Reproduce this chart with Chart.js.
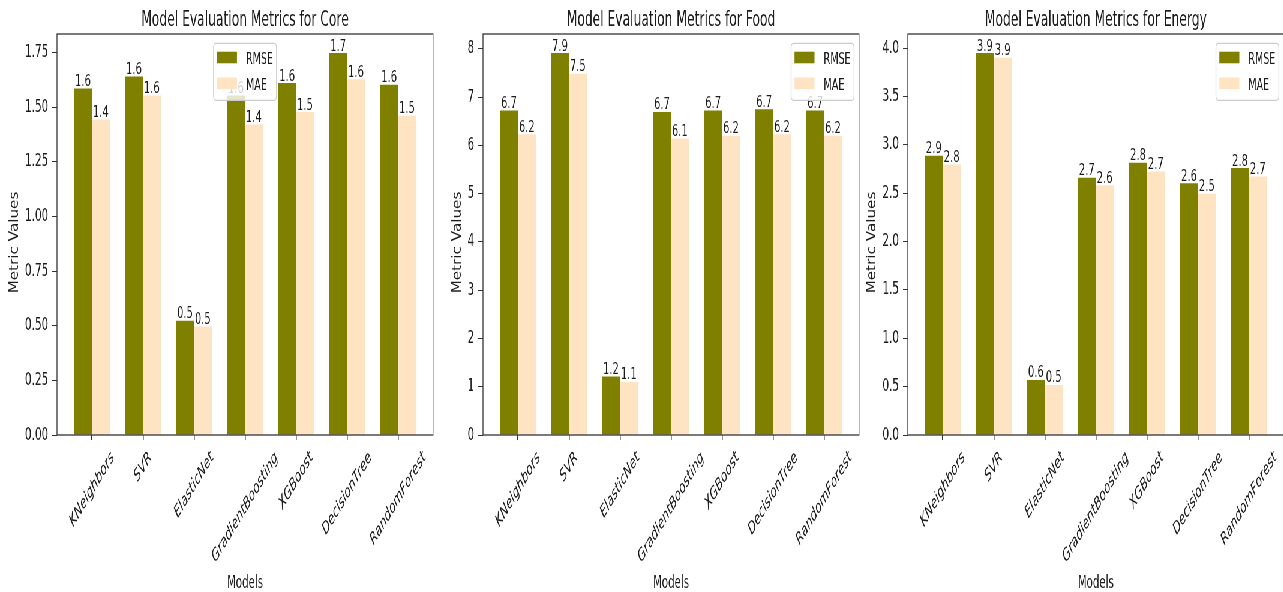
<!DOCTYPE html>
<html>
<head>
<meta charset="utf-8">
<script src="https://cdn.jsdelivr.net/npm/chart.js@4"></script>
<style>
  html, body { margin: 0; padding: 0; background: #fff; overflow: hidden; width: 1283px; height: 592px; }
  /* the figure is laid out wide and squeezed horizontally */
  #fig { position: absolute; left: 0; top: 0; width: 2170px; height: 592px; transform: scaleX(0.6); transform-origin: 0 0; }
  #fig canvas { position: absolute; top: 0; }
</style>
</head>
<body>
<div id="fig">
  <canvas id="core" width="747" height="592" style="left:0px"></canvas>
  <canvas id="food" width="747" height="592" style="left:710px"></canvas>
  <canvas id="energy" width="747" height="592" style="left:1418.3px"></canvas>
</div>
<script>
// ---- data ----
const models = ['KNeighbors', 'SVR', 'ElasticNet', 'GradientBoosting', 'XGBoost', 'DecisionTree', 'RandomForest'];
const metricNames = ['RMSE', 'MAE'];

const coreRmse = [1.586, 1.641, 0.523, 1.554, 1.611, 1.748, 1.603];
const coreMae  = [1.444, 1.554, 0.497, 1.421, 1.478, 1.628, 1.461];

const foodRmse = [6.72, 7.91, 1.21, 6.69, 6.72, 6.745, 6.72];
const foodMae  = [6.23, 7.48, 1.10, 6.14, 6.20, 6.23, 6.20];

const energyRmse = [2.886, 3.948, 0.569, 2.66, 2.814, 2.603, 2.759];
const energyMae  = [2.796, 3.90, 0.517, 2.583, 2.724, 2.493, 2.672];

const coreYTicks   = ['0.00', '0.25', '0.50', '0.75', '1.00', '1.25', '1.50', '1.75'];
const foodYTicks   = ['0', '1', '2', '3', '4', '5', '6', '7', '8'];
const energyYTicks = ['0.0', '0.5', '1.0', '1.5', '2.0', '2.5', '3.0', '3.5', '4.0'];

// ---- styling ----
const FONT = '"DejaVu Sans"';
const FS_TICK = 17.5, FS_XTICK = 17, FS_BAR = 16.5, FS_LABEL = 17, FS_YLABEL = 15.2, FS_LEGEND = 16, FS_TITLE = 20.5;
const INK = '#1c1c1c';
const AXIS = '#333333';
const COLORS = ['#808000', '#ffe4c4'];
const ROT = 45 * Math.PI / 180;
const Y_TICK_LEN = 8, Y_TICK_PAD = 6.5;

// titles, spines, rotated category labels, value labels and legend
const decor = {
  id: 'decor',
  afterDatasetsDraw(chart) {
    const ctx = chart.ctx;
    ctx.save();
    ctx.font = `${FS_BAR}px ${FONT}`;
    ctx.fillStyle = INK;
    ctx.textAlign = 'center';
    ctx.textBaseline = 'alphabetic';
    chart.data.datasets.forEach((ds, di) => {
      chart.getDatasetMeta(di).data.forEach((bar, i) => {
        ctx.fillText(ds.data[i].y.toFixed(1), bar.x, bar.y - 2.5);
      });
    });
    ctx.restore();
  },
  afterDraw(chart, args, o) {
    const ctx = chart.ctx;
    const a = chart.chartArea;
    const cx = (a.left + a.right) / 2;
    ctx.save();

    // axes frame
    ctx.strokeStyle = AXIS;
    ctx.lineWidth = 1.3;
    ctx.strokeRect(a.left, a.top, a.right - a.left, a.bottom - a.top);

    // title and x axis title
    ctx.fillStyle = INK;
    ctx.textAlign = 'center';
    ctx.textBaseline = 'alphabetic';
    ctx.font = `${FS_TITLE}px ${FONT}`;
    ctx.fillText(o.title, cx, 26);
    ctx.font = `${FS_LABEL}px ${FONT}`;
    ctx.fillText(o.xTitle, cx, 588);

    // y axis title, placed left of the widest tick label
    ctx.font = `${FS_TICK}px ${FONT}`;
    const widest = Math.max(...o.yLabels.map(t => ctx.measureText(t).width));
    const yx = a.left - Y_TICK_LEN - Y_TICK_PAD - widest - 16.5;
    ctx.save();
    ctx.translate(yx, (a.top + a.bottom) / 2 + 8);
    ctx.rotate(-Math.PI / 2);
    ctx.scale(1, 1.35);
    ctx.font = `${FS_YLABEL}px ${FONT}`;
    ctx.textBaseline = 'middle';
    ctx.fillText(o.yTitle, 0, 0);
    ctx.restore();

    // rotated category labels, centred under each tick
    ctx.font = `italic ${FS_XTICK}px ${FONT}`;
    const xs = chart.scales.x;
    o.xLabels.forEach((t, i) => {
      const w = ctx.measureText(t).width;
      const h = FS_XTICK * 1.17;
      const bh = w * Math.sin(ROT) + h * Math.cos(ROT);
      ctx.save();
      ctx.translate(xs.getPixelForValue(i), a.bottom + 13 + bh / 2);
      ctx.rotate(-ROT);
      ctx.textBaseline = 'middle';
      ctx.fillText(t, 0, 0);
      ctx.restore();
    });

    // legend
    ctx.font = `${FS_LEGEND}px ${FONT}`;
    const items = chart.data.datasets;
    const pad = 5.7, handle = 33.3, gap = 15;
    const tw = Math.max(...items.map(d => ctx.measureText(d.label).width));
    const fw = pad + handle + gap + tw + pad;
    const fh = 57;
    const fx = o.legendLoc === 'upper center' ? cx - fw / 2 : a.right - 8.3 - fw;
    const fy = a.top + 9.3;
    ctx.beginPath();
    ctx.roundRect(fx, fy, fw, fh, 4);
    ctx.fillStyle = 'rgba(255,255,255,0.8)';
    ctx.fill();
    ctx.strokeStyle = '#cccccc';
    ctx.lineWidth = 1.3;
    ctx.stroke();
    items.forEach((d, k) => {
      const py = fy + 8.4 + k * 25.8;
      ctx.fillStyle = d.backgroundColor;
      ctx.fillRect(fx + pad, py, handle, 11.6);
      ctx.fillStyle = INK;
      ctx.textAlign = 'left';
      ctx.textBaseline = 'alphabetic';
      ctx.fillText(d.label, fx + pad + handle + gap, py + 12.5);
    });

    ctx.restore();
  }
};

function makeChart(id, title, rmse, mae, yTicks, legendLoc) {
  const yVals = yTicks.map(Number);
  const ymax = Math.max(...rmse, ...mae) * 1.05;
  const series = [rmse, mae];
  new Chart(document.getElementById(id), {
    type: 'bar',
    data: {
      datasets: metricNames.map((name, k) => ({
        label: name,
        data: series[k].map((v, i) => ({ x: i, y: v })),
        backgroundColor: COLORS[k],
        borderWidth: 0,
        categoryPercentage: 0.7,
        barPercentage: 1.0
      }))
    },
    options: {
      responsive: false,
      animation: false,
      events: [],
      layout: { padding: { left: 0, right: 25.3, top: 34, bottom: 0 } },
      plugins: {
        legend: { display: false },
        title: { display: false },
        tooltip: { enabled: false },
        decor: {
          title: title,
          xTitle: 'Models',
          yTitle: 'Metric Values',
          xLabels: models,
          yLabels: yTicks,
          legendLoc: legendLoc
        }
      },
      scales: {
        x: {
          type: 'linear',
          min: -0.685,
          max: models.length - 1 + 0.685,
          offset: false,
          grid: { offset: false, drawOnChartArea: false, drawTicks: true, tickLength: 5, color: AXIS, lineWidth: 1.5 },
          border: { display: false },
          ticks: { display: false },
          afterBuildTicks: s => { s.ticks = models.map((_, i) => ({ value: i })); },
          afterFit: s => { s.height = 592 - 435; }
        },
        y: {
          type: 'linear',
          min: 0,
          max: ymax,
          grid: { drawOnChartArea: false, drawTicks: true, tickLength: Y_TICK_LEN, color: AXIS, lineWidth: 1 },
          border: { display: false },
          ticks: {
            padding: Y_TICK_PAD,
            color: INK,
            font: { family: 'DejaVu Sans', size: FS_TICK },
            callback: (v, idx) => yTicks[idx]
          },
          afterBuildTicks: s => { s.ticks = yVals.map(v => ({ value: v })); },
          afterFit: s => { s.width = 95; }
        }
      }
    },
    plugins: [decor]
  });
}

makeChart('core', 'Model Evaluation Metrics for Core', coreRmse, coreMae, coreYTicks, 'upper center');
makeChart('food', 'Model Evaluation Metrics for Food', foodRmse, foodMae, foodYTicks, 'upper right');
makeChart('energy', 'Model Evaluation Metrics for Energy', energyRmse, energyMae, energyYTicks, 'upper right');
</script>
</body>
</html>
